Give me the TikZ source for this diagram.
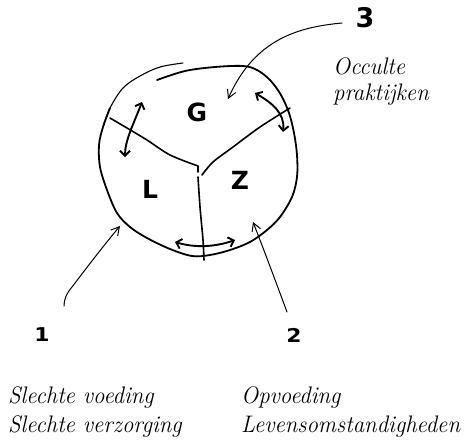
\documentclass[tikz,border=0pt]{standalone}
\usepackage{fontspec}
\newfontfamily\signfont{DejaVu Sans}
\usetikzlibrary{arrows.meta}
\begin{document}
\begin{tikzpicture}[x=1pt,y=-1pt,
  rim/.style={line width=1.8pt, line cap=round, line join=round},
  thinrim/.style={line width=1.1pt, line cap=round},
  divider/.style={line width=1.6pt, line cap=round, line join=round},
  swap/.style={line width=1.9pt, line cap=round,
    {Straight Barb[length=5pt,width=10pt]}-{Straight Barb[length=5pt,width=10pt]}},
  pointer/.style={line width=1.0pt, line cap=round,
    -{Straight Barb[length=8pt,width=9pt]}},
  region/.style={font=\signfont\bfseries\fontsize{25}{25}\selectfont, inner sep=0pt},
  bignum/.style={font=\signfont\bfseries\fontsize{27}{27}\selectfont, inner sep=0pt},
  smallnum/.style={font=\signfont\bfseries\fontsize{19}{19}\selectfont, inner sep=0pt, xscale=1.15},
  note/.style={font=\itshape\fontsize{23.9}{23.9}\selectfont, inner sep=0pt,
    anchor=base west, xscale=0.955}
]
\useasboundingbox (0,0) rectangle (468,442);

% outer boundary of the three-part whole
\draw[rim] plot[smooth, tension=0.55] coordinates {
  (157,80) (185,71) (215,67) (243,66) (257,70) (270,80) (281,95) (289,113)
  (294,133) (297,155) (297,177) (292,197) (280,217) (267,230) (250,242)
  (230,250) (210,255) (192,256) (170,249) (147,238) (130,227) (117,213)
  (107,190) (100,167) (99,145) (103,127) (110,108)};
\draw[thinrim] plot[smooth, tension=0.55] coordinates {
  (103,127) (110,108) (123,88) (140,76) (160,67) (183,63)};

% the three dividing lines meeting near the centre
\coordinate (hub) at (198,167);
\draw[divider] plot[smooth, tension=0.5] coordinates {
  (110,118) (127,128) (147,140) (170,155) (198,166)} -- (198,172);
\draw[divider] plot[smooth, tension=0.5] coordinates {
  (290,108) (260,127) (233,147) (213,162) (202,175)};
\draw[divider] plot[smooth, tension=0.5] coordinates {
  (198,177) (200,207) (203,240) (204,260)};

% the three parts
\node[region] (G) at (197,112) {G};
\node[region] (L) at (150,189) {L};
\node[region] (Z) at (240,180) {Z};

% interaction arrows across the dividers
\coordinate (gl1) at (142,102);
\coordinate (gl2) at (125,157);
\coordinate (gz1) at (255,93);
\coordinate (gz2) at (283,132);
\coordinate (lz1) at (175,242);
\coordinate (lz2) at (235,240);
\draw[swap] (gl1) .. controls (134,123) and (125,140) .. (gl2);
\draw[swap] (gz1) .. controls (272,103) and (285,113) .. (gz2);
\draw[swap] (lz1) .. controls (195,248) and (215,247) .. (lz2);

% numbered labels with their pointers
\node[bignum] (n3) at (365,18) {3};
\node[smallnum] (n1) at (42,335) {1};
\node[smallnum] (n2) at (294,335) {2};

\coordinate (t3) at (342,23);
\coordinate (h3) at (228,99);
\draw[pointer] (t3) .. controls (300,27) and (255,38) .. (h3);

\coordinate (t1) at (64,306);
\coordinate (h1) at (120,226);
\draw[pointer] (t1) .. controls (64,300) and (66,294) .. (72,287)
  .. controls (85,270) and (100,250) .. (h1);

\coordinate (t2) at (287,312);
\coordinate (h2) at (253,222);
\draw[pointer] (t2) .. controls (277,285) and (264,250) .. (h2);

% descriptions
\node[note] (occ1) at (333,74) {Occulte};
\node[note] (occ2) at (333,100) {praktijken};
\node[note] (l1) at (8,403) {Slechte voeding};
\node[note] (l2) at (8,432) {Slechte verzorging};
\node[note] (r1) at (241,403) {Opvoeding};
\node[note] (r2) at (241,432) {Levensomstandigheden};
\end{tikzpicture}
\end{document}
